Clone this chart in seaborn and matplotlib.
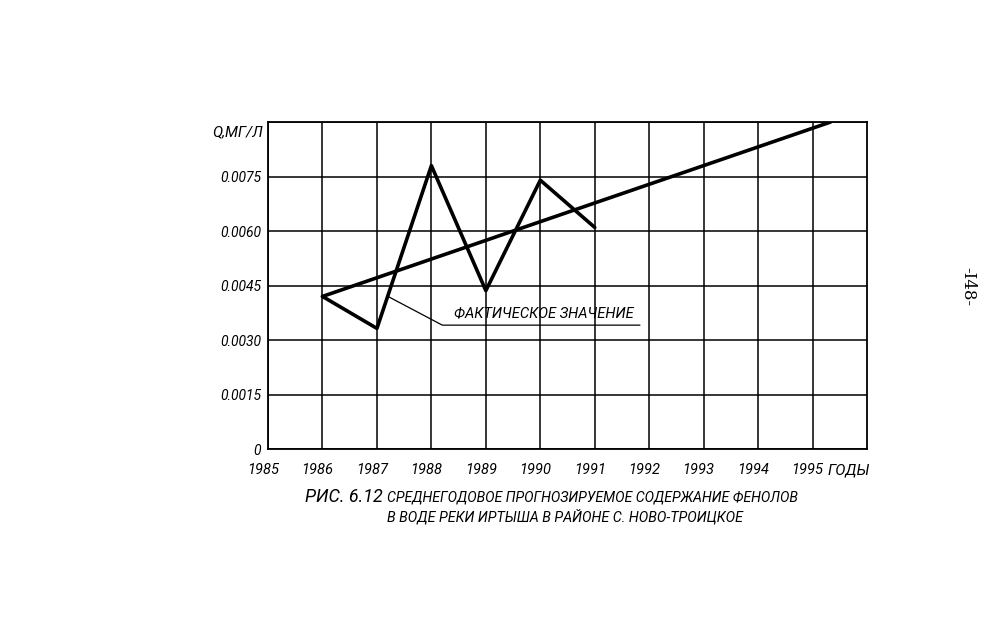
import matplotlib
matplotlib.use("Agg")
import matplotlib.pyplot as plt
import matplotlib.transforms as mtrans
import seaborn as sns
import pandas as pd

# actual (measured) values
years = [1986, 1987, 1988, 1989, 1990, 1991]
fact = [0.0042, 0.00332, 0.0078, 0.00436, 0.0074, 0.0061]

# forecast trend line
trend_years = [1986, 1995.33]
trend_vals = [0.0042, 0.0090]

xticks = [1985, 1986, 1987, 1988, 1989, 1990, 1991, 1992, 1993, 1994, 1995]
yticks = [0, 0.0015, 0.0030, 0.0045, 0.0060, 0.0075]
ytick_labels = ["0", "0.0015", "0.0030", "0.0045", "0.0060", "0.0075"]

sns.set_style("white")
plt.rcParams['font.family'] = ['Roboto', 'DejaVu Sans']
plt.rcParams['font.style'] = 'italic'
plt.rcParams['text.color'] = 'black'
plt.rcParams['xtick.color'] = 'black'
plt.rcParams['ytick.color'] = 'black'

fig = plt.figure(figsize=(9.96, 6.4), dpi=100)
ax = fig.add_axes([0.2691, 0.2984, 0.6014, 0.5109])

df_fact = pd.DataFrame({"year": years, "val": fact})
df_trend = pd.DataFrame({"year": trend_years, "val": trend_vals})
sns.lineplot(data=df_trend, x="year", y="val", color="black", lw=2.6, ax=ax)
sns.lineplot(data=df_fact, x="year", y="val", color="black", lw=2.6, ax=ax)

ax.set_xlim(1985, 1996)
ax.set_ylim(0, 0.009)
ax.set_xticks(xticks)
ax.set_xticklabels([str(y) for y in xticks], fontsize=10.5, fontstyle='italic')
ax.set_yticks(yticks + [0.009])
ax.set_yticklabels(ytick_labels + [""], fontsize=10, fontstyle='italic')
ax.tick_params(length=0, pad=5)
ax.tick_params(axis='x', pad=10)
ax.set_xlabel("")
ax.set_ylabel("")
ax.grid(True, color="black", lw=1.1)
for s in ax.spines.values():
    s.set_color("black")
    s.set_linewidth(1.3)

# x labels sit a little left of the grid lines on the drawing
off = mtrans.ScaledTranslation(-5 / 100, 0, fig.dpi_scale_trans)
for lbl in ax.get_xticklabels():
    lbl.set_transform(lbl.get_transform() + off)

ax.text(1995.27, -0.0006, "ГОДЫ", ha="left", va="center", fontsize=11, fontstyle='italic')
ax.text(-0.008, 0.969, "Q,МГ/Л", transform=ax.transAxes, ha="right", va="center",
        fontsize=11, fontstyle='italic')

# leader line and label
ax.plot([1987.19, 1988.2, 1991.83], [0.00421, 0.00341, 0.00341], color="black", lw=0.9)
ax.text(1990.06, 0.00374, "ФАКТИЧЕСКОЕ ЗНАЧЕНИЕ", ha="center", va="center",
        fontsize=10.5, fontstyle='italic')

fig.text(0.306, 0.223, "РИС. 6.12", ha="left", va="center", fontsize=13, fontstyle='italic')
fig.text(0.3886, 0.223, "СРЕДНЕГОДОВОЕ ПРОГНОЗИРУЕМОЕ СОДЕРЖАНИЕ ФЕНОЛОВ", ha="left", va="center",
         fontsize=10.2, fontstyle='italic')
fig.text(0.3886, 0.193, "В ВОДЕ РЕКИ ИРТЫША В РАЙОНЕ С. НОВО-ТРОИЦКОЕ", ha="left", va="center",
         fontsize=10.3, fontstyle='italic')

fig.text(0.972, 0.553, "-I48-", rotation=-90, ha="center", va="center", fontsize=12,
         fontstyle='normal', family=['DejaVu Serif'])

fig.savefig("out.png", dpi=100, facecolor="white")
